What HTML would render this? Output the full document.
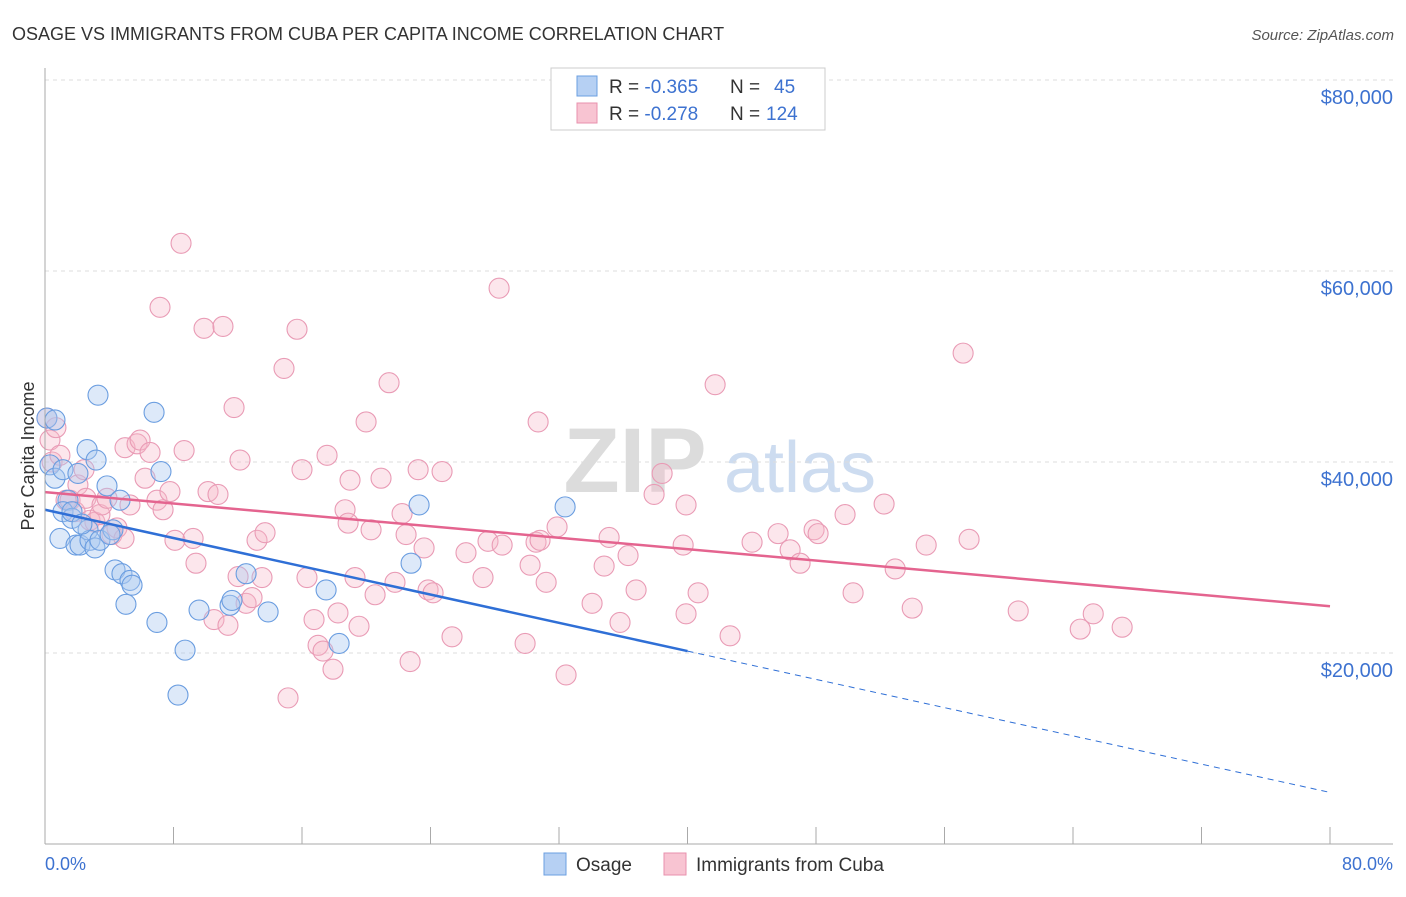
<!DOCTYPE html>
<html><head><meta charset="utf-8"><style>
body{margin:0;background:#fff;font-family:"Liberation Sans",sans-serif}
svg text{font-family:"Liberation Sans",sans-serif}
</style></head><body>
<svg id="c" width="1406" height="892">
<text x="12" y="40" font-size="18" fill="#333">OSAGE VS IMMIGRANTS FROM CUBA PER CAPITA INCOME CORRELATION CHART</text>
<text x="1394" y="40" font-size="15" fill="#555" text-anchor="end" font-style="italic">Source: ZipAtlas.com</text>
<text x="0" y="0" transform="translate(34,456) rotate(-90)" font-size="18" fill="#333" text-anchor="middle">Per Capita Income</text>
<g><text x="635" y="492" font-size="92" fill="#dcdcdc" text-anchor="middle" font-family="Liberation Serif" font-weight="bold">ZIP</text><text x="800" y="492" font-size="72" fill="#cddcf0" text-anchor="middle">atlas</text></g>
<g id="grid"></g><g id="pts"></g><g id="lines"></g>
<line x1="45" y1="68" x2="45" y2="844" stroke="#aaa"/>
<line x1="45" y1="844" x2="1393" y2="844" stroke="#aaa"/>
<text x="45" y="870" font-size="18" fill="#3d72d0">0.0%</text>
<text x="1393" y="870" font-size="18" fill="#3d72d0" text-anchor="end">80.0%</text>
<g>
<rect x="551" y="68" width="274" height="62" fill="#fff" stroke="#ccc"/>
<rect x="577" y="76" width="20" height="20" fill="#b6d0f3" stroke="#6b9fe0"/>
<rect x="577" y="103" width="20" height="20" fill="#f8c4d2" stroke="#e891ad"/>
<text x="609" y="93" font-size="19" fill="#333">R = <tspan fill="#3d72d0">-0.365</tspan><tspan x="730">N = </tspan><tspan x="774" fill="#3d72d0">45</tspan></text>
<text x="609" y="120" font-size="19" fill="#333">R = <tspan fill="#3d72d0">-0.278</tspan><tspan x="730">N = </tspan><tspan x="766" fill="#3d72d0">124</tspan></text>
</g>
<g>
<rect x="544" y="853" width="22" height="22" fill="#b6d0f3" stroke="#6b9fe0"/>
<text x="576" y="871" font-size="19" fill="#333">Osage</text>
<rect x="664" y="853" width="22" height="22" fill="#f8c4d2" stroke="#e891ad"/>
<text x="696" y="871" font-size="19" fill="#333">Immigrants from Cuba</text>
</g>
</svg>
<script>
const yTicks=[20000,40000,60000,80000];
const yTickLabels=["$20,000","$40,000","$60,000","$80,000"];
const xTicks=[0,8,16,24,32,40,48,56,64,72,80];
const osageX=[0.12,0.62,0.31,0.62,1.12,0.93,1.43,1.12,1.68,2.05,1.93,2.18,2.62,2.68,2.80,3.18,3.11,3.30,3.42,3.86,4.23,4.36,4.67,4.79,5.04,5.29,5.42,6.79,6.97,7.22,8.28,8.72,9.59,11.52,11.64,12.52,13.89,17.50,18.31,22.79,23.29,32.38,1.68,4.05,2.3];
const osageY=[44.6,44.4,39.7,38.3,39.2,32.0,36.0,34.8,34.1,38.8,31.3,31.3,41.3,32.9,31.8,40.2,31.0,47.0,31.8,37.5,32.9,28.7,36.0,28.3,25.1,27.6,27.1,45.2,23.2,39.0,15.6,20.3,24.5,25.0,25.5,28.3,24.3,26.6,21.0,29.4,35.5,35.3,34.8,32.4,33.5];
const cubaX=[0.12,0.31,0.44,0.68,0.93,1.31,1.56,1.87,2.05,2.43,2.55,2.80,3.11,3.42,3.55,3.86,4.17,4.48,4.92,4.98,5.29,5.73,5.92,6.23,6.54,6.97,7.16,7.35,7.78,8.09,8.47,8.66,9.22,9.40,9.90,10.15,10.52,10.77,11.08,11.39,11.77,12.02,12.14,12.52,12.89,13.20,13.51,13.70,14.88,15.13,15.69,16.00,16.31,16.75,17.00,17.31,17.56,17.93,18.24,18.68,18.87,18.99,19.30,19.55,19.99,20.30,20.55,20.92,21.42,21.79,22.23,22.48,22.73,23.23,23.60,23.85,24.16,24.72,25.34,26.21,27.27,27.58,28.27,28.46,29.89,30.20,30.57,30.70,30.82,31.20,31.88,32.44,34.06,34.81,35.12,35.80,36.30,36.80,37.92,38.42,39.73,39.91,39.91,40.66,41.72,42.65,44.02,45.64,46.39,47.01,47.88,48.13,49.81,50.31,52.24,52.93,53.99,54.86,57.16,57.53,60.59,64.45,65.26,67.06];
const cubaY=[44.6,42.3,40.0,43.6,40.7,36.0,36.0,34.8,37.6,39.2,36.2,33.9,33.7,34.5,35.5,36.2,32.4,33.1,32.0,41.5,35.5,41.9,42.3,38.3,41.0,36.0,56.2,35.0,36.9,31.8,62.9,41.2,32.0,29.4,54.0,36.9,23.5,36.6,54.2,22.9,45.7,28.0,40.2,25.2,25.8,31.8,27.9,32.6,49.8,15.3,53.9,39.2,27.9,23.5,20.8,20.2,40.7,18.3,24.2,35.0,33.6,38.1,27.9,22.8,44.2,32.9,26.1,38.3,48.3,27.4,34.6,32.4,19.1,39.2,31.0,26.6,26.3,39.0,21.7,30.5,27.9,31.7,58.2,31.3,21.0,29.2,31.6,44.2,31.8,27.4,33.2,17.7,25.2,29.1,32.1,23.2,30.2,26.6,36.6,38.8,31.3,24.1,35.5,26.3,48.1,21.8,31.6,32.5,30.8,29.4,32.9,32.5,34.5,26.3,35.6,28.8,24.7,31.3,51.4,31.9,24.4,22.5,24.1,22.7];
const osageTrend=[35.0,5.4];
const cubaTrend=[36.85,24.9];
const osageSolidEnd=40;
const NS='http://www.w3.org/2000/svg';
const sx=p=>45+p*(1285/80);
const sy=v=>844-v*(191/20000);
const syk=k=>sy(k*1000);
function mk(t,a,p){const e=document.createElementNS(NS,t);for(const k in a)e.setAttribute(k,a[k]);p.appendChild(e);return e;}
const grid=document.getElementById('grid');
yTicks.forEach((v,i)=>{
 const l=mk('line',{x1:45,x2:1393,y1:sy(v),y2:sy(v),stroke:'#ddd','stroke-dasharray':'4,4'},grid);
 
 
 const t=mk('text',{x:1393,y:sy(v)+24,'font-size':20,fill:'#3d72d0','text-anchor':'end'},grid);
 t.textContent=yTickLabels[i];
 
 
});
xTicks.forEach(p=>{
 const l=mk('line',{x1:sx(p),x2:sx(p),y1:827,y2:844,stroke:'#aaa'},grid);
 
 
});
const pts=document.getElementById('pts');
cubaX.forEach((x,i)=>{
 const c=mk('circle',{cx:sx(x),cy:syk(cubaY[i]),r:10,fill:'#f7b8c9','fill-opacity':0.35,stroke:'#e99bb5','stroke-width':1.1},pts);
 
 
});
osageX.forEach((x,i)=>{
 const c=mk('circle',{cx:sx(x),cy:syk(osageY[i]),r:10,fill:'#a9c8ef','fill-opacity':0.4,stroke:'#6a9de0','stroke-width':1.1},pts);
 
 
});
const lines=document.getElementById('lines');
const oy=p=>osageTrend[0]+(osageTrend[1]-osageTrend[0])*p/80;
let a=mk('line',{x1:sx(0),y1:syk(oy(0)),x2:sx(osageSolidEnd),y2:syk(oy(osageSolidEnd)),stroke:'#2f6fd6','stroke-width':2.5},lines);


a=mk('line',{x1:sx(osageSolidEnd),y1:syk(oy(osageSolidEnd)),x2:sx(80),y2:syk(oy(80)),stroke:'#2f6fd6','stroke-width':1,'stroke-dasharray':'6,5'},lines);


a=mk('line',{x1:sx(0),y1:syk(cubaTrend[0]),x2:sx(80),y2:syk(cubaTrend[1]),stroke:'#e4648f','stroke-width':2.5},lines);


</script>
</body></html>
